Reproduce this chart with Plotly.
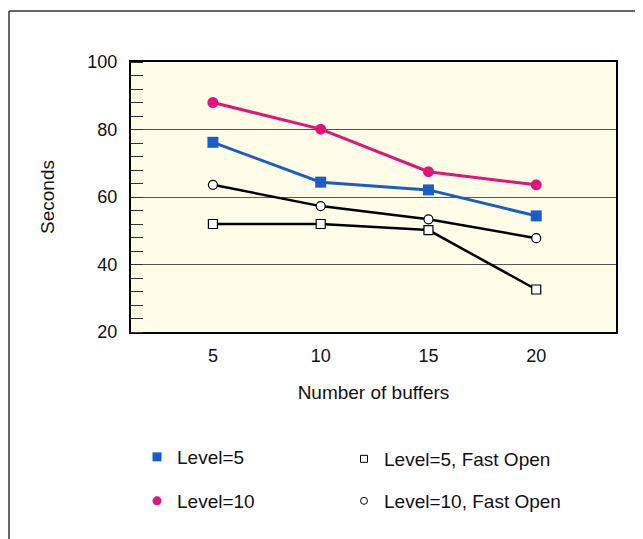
import plotly.graph_objects as go

buffers = [5, 10, 15, 20]
level5 = [76.2, 64.4, 62.1, 54.4]
level10 = [88.0, 80.1, 67.5, 63.6]
level5_fast = [52.0, 52.0, 50.2, 32.6]
level10_fast = [63.6, 57.3, 53.4, 47.8]

y_ticks = [20, 40, 60, 80, 100]
x_ticks = [5, 10, 15, 20]

BLUE = "#1a5cc8"
MAGENTA = "#e0157a"
FONT = "Liberation Sans, Arial, sans-serif"

OFF = 8  # default page body margin
W, H = 643, 539
L, R, T, B = 131, 27, 62, 207
pw, ph = W - L - R, H - T - B

def px(x):
    return (x - L) / pw

def py(y):
    return (H - B - y) / ph

fig = go.Figure()

fig.add_trace(go.Scatter(x=buffers, y=level5_fast, mode="lines+markers", showlegend=False,
                         line=dict(color="black", width=2.5),
                         marker=dict(symbol="square", size=9, color="white", line=dict(color="black", width=1.2))))
fig.add_trace(go.Scatter(x=buffers, y=level10_fast, mode="lines+markers", showlegend=False,
                         line=dict(color="black", width=2.5),
                         marker=dict(symbol="circle", size=9, color="white", line=dict(color="black", width=1.2))))
fig.add_trace(go.Scatter(x=buffers, y=level5, mode="lines+markers", showlegend=False,
                         line=dict(color=BLUE, width=3),
                         marker=dict(symbol="square", size=11, color=BLUE)))
fig.add_trace(go.Scatter(x=buffers, y=level10, mode="lines+markers", showlegend=False,
                         line=dict(color=MAGENTA, width=3),
                         marker=dict(symbol="circle", size=11, color=MAGENTA)))

# legend-only entries (markers only)
legend_items = [
    ("Level=5", dict(symbol="square", size=9, color=BLUE), "legend"),
    ("Level=10", dict(symbol="circle", size=9, color=MAGENTA), "legend2"),
    ("Level=5, Fast Open", dict(symbol="square-open", size=7, color="black", line=dict(width=1)), "legend3"),
    ("Level=10, Fast Open", dict(symbol="circle-open", size=7, color="black", line=dict(width=1)), "legend4"),
]
for name, mk, lg in legend_items:
    fig.add_trace(go.Scatter(x=[None], y=[None], mode="markers", name=name, marker=mk, legend=lg))

leg_common = dict(font=dict(family=FONT, size=19, color="#111"), bgcolor="rgba(0,0,0,0)",
                  xanchor="left", yanchor="middle", itemwidth=30)
pos = {"legend": (137, 457), "legend2": (137, 501), "legend3": (344, 459), "legend4": (344, 501)}
layout_legends = {k: dict(leg_common, x=px(v[0]), y=py(v[1])) for k, v in pos.items()}

fig.update_layout(
    width=W - OFF, height=H - OFF,
    margin=dict(l=L - OFF, r=R, t=T - OFF, b=B, autoexpand=False),
    paper_bgcolor="white",
    plot_bgcolor="#fffde8",
    font=dict(family=FONT, size=18, color="#111"),
    xaxis=dict(range=[1.2, 23.7], tickvals=x_ticks, ticktext=[str(v) for v in x_ticks],
               showgrid=False, zeroline=False, showline=True, mirror=True,
               linecolor="black", linewidth=2, ticks="", automargin=False,
               ticklabelstandoff=6,
               title=dict(text="Number of buffers", font=dict(size=19), standoff=21),
               tickfont=dict(size=18)),
    yaxis=dict(range=[20, 100], tickvals=y_ticks, ticktext=[str(v) for v in y_ticks],
               showgrid=True, gridcolor="#555", gridwidth=1, zeroline=False,
               showline=True, mirror=True, linecolor="black", linewidth=2, ticks="",
               automargin=False, ticklabelstandoff=8,
               minor=dict(dtick=4, tick0=20, ticks="inside", ticklen=12, tickcolor="#333",
                          tickwidth=1, showgrid=False),
               title=dict(text="Seconds", font=dict(size=19), standoff=28),
               tickfont=dict(size=18)),
    showlegend=True,
    **layout_legends,
)

# outer frame
frame = dict(color="#333", width=1.5)
fig.add_shape(type="line", xref="paper", yref="paper", x0=px(9), x1=px(9), y0=py(11), y1=py(560), line=frame)
fig.add_shape(type="line", xref="paper", yref="paper", x0=px(9), x1=px(643), y0=py(11), y1=py(11), line=frame)
fig.add_shape(type="line", xref="paper", yref="paper", x0=px(637), x1=px(637), y0=py(11), y1=py(560), line=frame)

fig.write_html("out.html")
